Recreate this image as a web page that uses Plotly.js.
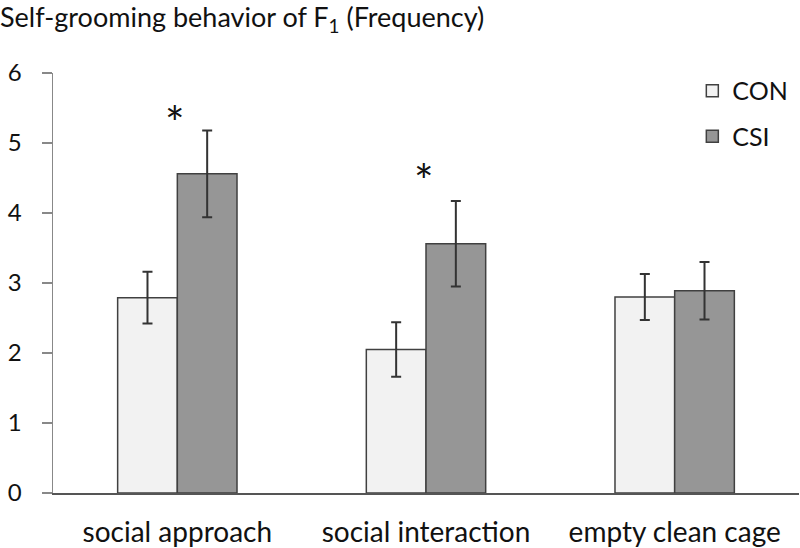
<!DOCTYPE html>
<html>
<head>
<meta charset="utf-8">
<script src="https://cdn.plot.ly/plotly-3.0.1.min.js"></script>
<style>html,body{margin:0;padding:0;background:#fff;}#chart{width:800px;height:548px;}</style>
</head>
<body>
<div id="chart"></div>
<script>
const categories = ["social approach", "social interaction", "empty clean cage"];
const conValues = [2.79, 2.05, 2.80];
const conErrors = [0.37, 0.39, 0.33];
const csiValues = [4.56, 3.56, 2.89];
const csiErrors = [0.62, 0.61, 0.41];
const starCategories = ["social approach", "social interaction"];
const starY = [5.45, 4.62];
const yTicks = [0, 1, 2, 3, 4, 5, 6];

const FONT = "Lato, 'Open Sans', sans-serif";

const traces = [
  {
    type: "bar", name: "CON", x: categories, y: conValues, legendgroup: "a",
    marker: {color: "#f2f2f2", line: {color: "#404040", width: 1.5}},
    error_y: {type: "data", array: conErrors, visible: true, color: "#333", thickness: 2, width: 5}
  },
  {
    type: "bar", name: "CSI", x: categories, y: csiValues, legendgroup: "b",
    marker: {color: "#969696", line: {color: "#404040", width: 1.5}},
    error_y: {type: "data", array: csiErrors, visible: true, color: "#333", thickness: 2, width: 5}
  }
];

const annotations = starCategories.map((c, i) => ({
  x: c, y: starY[i], xref: "x", yref: "y", text: "*", showarrow: false,
  font: {family: FONT, size: 46, color: "#111"}, yanchor: "middle", xshift: -2, yshift: -11
}));

const layout = {
  width: 800, height: 548,
  margin: {l: 53, r: 1, t: 73, b: 55},
  paper_bgcolor: "#fff", plot_bgcolor: "#fff",
  barmode: "group", bargap: 0.52, bargroupgap: 0,
  title: {
    text: "Self-grooming behavior of F<sub>1</sub> (Frequency)",
    xref: "container", x: 0, xanchor: "left", yref: "container", y: 0.968, yanchor: "middle",
    font: {family: FONT, size: 27, color: "#111"}
  },
  xaxis: {
    showline: true, linecolor: "#555", linewidth: 1.5, ticks: "", showgrid: false,
    tickfont: {family: FONT, size: 28, color: "#111"}, range: [-0.5, 2.5], ticklabelstandoff: 14
  },
  yaxis: {
    range: [0, 6], tickvals: yTicks, showline: true, linecolor: "#888", linewidth: 1.5,
    ticks: "outside", ticklen: 10, tickcolor: "#888", tickwidth: 1.5, showgrid: false, zeroline: false,
    tickfont: {family: FONT, size: 24, color: "#111"}, ticklabelstandoff: 15
  },
  legend: {
    x: 0.857, y: 1.012, xanchor: "left", yanchor: "top", traceorder: "grouped", tracegroupgap: 10,
    font: {family: FONT, size: 25, color: "#111"}, bgcolor: "rgba(0,0,0,0)"
  },
  annotations: annotations,
  showlegend: true
};

Plotly.newPlot("chart", traces, layout, {displayModeBar: false, staticPlot: true});
</script>
</body>
</html>
